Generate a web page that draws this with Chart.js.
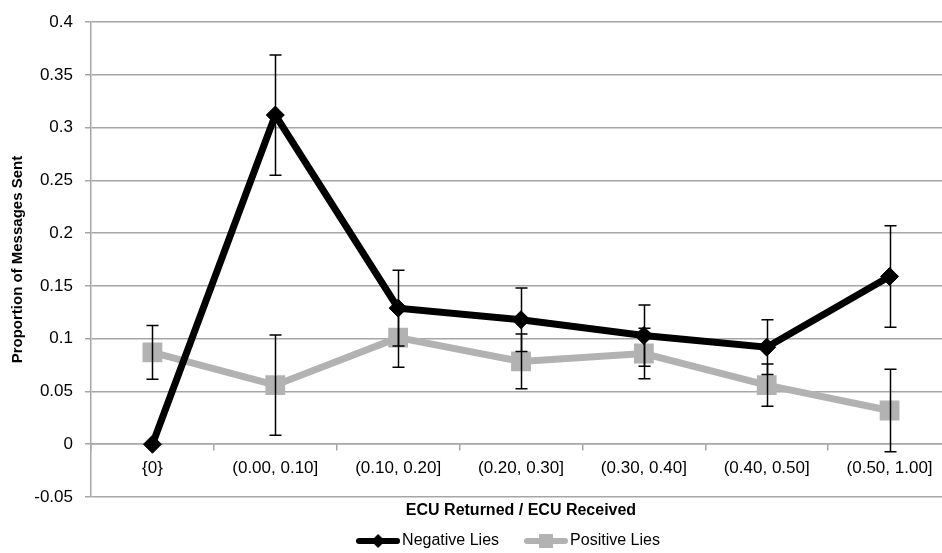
<!DOCTYPE html>
<html><head><meta charset="utf-8">
<script src="https://cdn.jsdelivr.net/npm/chart.js@4"></script>
<style>html,body{margin:0;padding:0;overflow:hidden;background:#fff;width:942px;height:553px}canvas{display:block}</style>
</head><body>
<canvas id="c" width="956" height="553"></canvas>
<script>
const categories = ['{0}', '(0.00, 0.10]', '(0.10, 0.20]', '(0.20, 0.30]', '(0.30, 0.40]', '(0.40, 0.50]', '(0.50, 1.00]'];
const negativeLies = [0, 0.312, 0.129, 0.118, 0.103, 0.092, 0.159];
const negativeErr = [0, 0.057, 0.036, 0.030, 0.029, 0.026, 0.048];
const positiveLies = [0.087, 0.056, 0.101, 0.0785, 0.086, 0.056, 0.032];
const positiveErr = [0.0255, 0.0475, 0.028, 0.026, 0.024, 0.020, 0.039];
const yTicks = [-0.05, 0, 0.05, 0.1, 0.15, 0.2, 0.25, 0.3, 0.35, 0.4];

const FONT = "'Liberation Sans', Arial, sans-serif";
const BLACK = '#000000';
const GRAY = '#b2b2b2';
const GRID = '#a6a6a6';

function legendIcon(color, shape) {
  const c = document.createElement('canvas');
  c.width = 44; c.height = 16;
  const x = c.getContext('2d');
  x.strokeStyle = color; x.lineWidth = 6; x.lineCap = 'round';
  x.beginPath(); x.moveTo(3, 8); x.lineTo(41, 8); x.stroke();
  x.fillStyle = color;
  if (shape === 'diamond') {
    x.beginPath(); x.moveTo(22, 1); x.lineTo(29, 8); x.lineTo(22, 15); x.lineTo(15, 8); x.closePath(); x.fill();
  } else {
    x.fillRect(15, 1, 14, 14);
  }
  return c;
}
const legendIcons = [legendIcon(BLACK, 'diamond'), legendIcon(GRAY, 'square')];

const errorBarPlugin = {
  id: 'errorBars',
  afterLayout(chart) {
    if (chart.legend) { chart.legend.left -= 10; chart.legend.right -= 10; }
  },
  afterDatasetsDraw(chart) {
    const ctx = chart.ctx;
    const ys = chart.scales.y;
    ctx.save();
    ctx.strokeStyle = '#000';
    ctx.lineWidth = 1.5;
    chart.data.datasets.forEach((ds, i) => {
      const meta = chart.getDatasetMeta(i);
      if (!ds.errorBars) return;
      meta.data.forEach((pt, j) => {
        const e = ds.errorBars[j];
        if (!e) return;
        const v = ds.data[j];
        const x = Math.round(pt.x) + 0.5;
        const yT = ys.getPixelForValue(v + e);
        const yB = ys.getPixelForValue(v - e);
        ctx.beginPath();
        ctx.moveTo(x, yT); ctx.lineTo(x, yB);
        ctx.moveTo(x - 6, yT); ctx.lineTo(x + 6, yT);
        ctx.moveTo(x - 6, yB); ctx.lineTo(x + 6, yB);
        ctx.stroke();
      });
    });
    ctx.restore();
  }
};

new Chart(document.getElementById('c'), {
  type: 'line',
  data: {
    labels: categories,
    datasets: [
      {
        label: 'Negative Lies', data: negativeLies, errorBars: negativeErr,
        borderColor: BLACK, backgroundColor: BLACK, borderWidth: 7,
        pointStyle: 'rectRot', pointRadius: 9, pointHoverRadius: 9, pointBackgroundColor: BLACK, pointBorderColor: BLACK,
        pointBorderWidth: 1, tension: 0
      },
      {
        label: 'Positive Lies', data: positiveLies, errorBars: positiveErr,
        borderColor: GRAY, backgroundColor: GRAY, borderWidth: 7,
        pointStyle: 'rect', pointRadius: 14, pointHoverRadius: 14, pointBackgroundColor: GRAY, pointBorderColor: GRAY,
        pointBorderWidth: 0, tension: 0
      }
    ]
  },
  options: {
    responsive: false,
    animation: false,
    events: [],
    layout: { autoPadding: false, padding: { left: 0, right: 5, top: 15, bottom: 0 } },
    plugins: {
      tooltip: { enabled: false },
      legend: {
        position: 'bottom',
        fullSize: false,
        maxHeight: 51,
        labels: {
          usePointStyle: true,
          pointStyleWidth: 32,
          padding: 31,
          color: '#000',
          font: { family: FONT, size: 16 },
          generateLabels(chart) {
            return chart.data.datasets.map((ds, i) => ({
              text: ds.label, datasetIndex: i, pointStyle: legendIcons[i],
              fillStyle: ds.borderColor, strokeStyle: ds.borderColor, lineWidth: 0, hidden: false,
              fontColor: '#000'
            }));
          }
        }
      }
    },
    scales: {
      x: {
        type: 'category',
        position: { y: 0 },
        offset: true,
        grid: { display: true, drawOnChartArea: false, drawTicks: true, tickLength: 6, offset: true, color: GRID, lineWidth: 1.5 },
        border: { display: true, color: GRID, width: 1.5 },
        ticks: { color: '#000', padding: 8, font: { family: FONT, size: 17 }, maxRotation: 0, autoSkip: false }
      },
      xt: {
        type: 'category',
        position: 'bottom',
        offset: true,
        grid: { display: false, drawTicks: false },
        border: { display: false },
        ticks: { display: false },
        title: { display: true, text: 'ECU Returned / ECU Received', color: '#000', font: { family: FONT, size: 16, weight: 'bold' }, padding: { top: 0, bottom: -18.6 } },
        afterFit(s) { s.height = 5; }
      },
      y: {
        min: -0.05, max: 0.4,
        afterBuildTicks(s) { s.ticks = yTicks.map(v => ({ value: v })); },
        grid: { color: GRID, lineWidth: 1.5, tickLength: 6 },
        border: { color: GRID, width: 1.5 },
        ticks: { color: '#000', padding: 12, font: { family: FONT, size: 17 }, callback: v => String(+(+v).toFixed(2)) },
        title: { display: true, text: 'Proportion of Messages Sent', color: '#000', font: { family: FONT, size: 15, weight: 'bold' }, padding: { top: 9, bottom: 0 } },
        afterFit(s) { s.width = 91; }
      }
    }
  },
  plugins: [errorBarPlugin]
});
</script>
</body></html>
